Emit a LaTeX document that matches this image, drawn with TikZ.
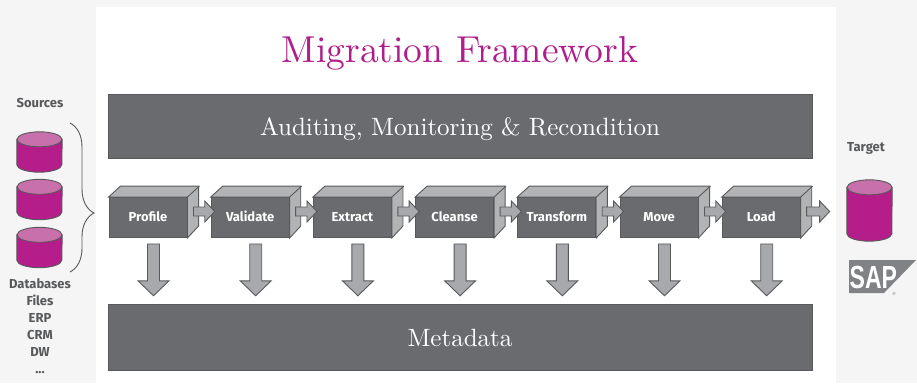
\documentclass[tikz,border=0pt]{standalone}
\usepackage{fontspec}
\newfontfamily\labelfont{Fira Sans}
\newfontfamily\logofont{Liberation Sans}
\newfontfamily\titlefont{lmroman10-regular}[Extension=.otf]
\usetikzlibrary{positioning,calc,decorations.pathreplacing}
\definecolor{panelgray}{HTML}{F5F5F5}
\definecolor{boxgray}{HTML}{6A6B6E}
\definecolor{linegray}{HTML}{58595B}
\definecolor{facegray}{HTML}{B1B3B5}
\definecolor{arrowgray}{HTML}{A7A9AC}
\definecolor{logogray}{HTML}{808285}
\definecolor{titlepink}{HTML}{B01E8C}
\definecolor{dbpink}{HTML}{B51D8A}
\definecolor{dbtop}{HTML}{C770AC}
\tikzset{
	bar/.style={rectangle,draw=linegray,fill=boxgray,minimum width=704pt,text height=20pt,text depth=2pt,text=white,font=\titlefont\fontsize{25}{30}\selectfont,inner sep=0pt},
	stage/.style={rectangle,draw=linegray,line width=.9pt,fill=boxgray,minimum width=78pt,minimum height=40pt,inner sep=0pt,text height=9pt,text depth=1pt,text=white,font=\labelfont\bfseries\fontsize{13}{15}\selectfont},
	face/.style={draw=linegray,line width=.9pt,fill=facegray},
	database/.style={rectangle,minimum width=45pt,inner sep=0pt},
	dbline/.style={draw=linegray,line width=.9pt},
	side/.style={text=linegray,font=\labelfont\bfseries\fontsize{13}{16.9}\selectfont,align=center,inner sep=0pt},
	flow/.style={draw=linegray,line width=.9pt,fill=arrowgray,to path={
		($(\tikztostart)!4.5pt!-90:(\tikztotarget)$)
		-- ($(\tikztotarget)!10pt!(\tikztostart)!4.5pt!90:(\tikztostart)$)
		-- ($(\tikztotarget)!10pt!(\tikztostart)!10.5pt!90:(\tikztostart)$)
		-- (\tikztotarget)
		-- ($(\tikztotarget)!10pt!(\tikztostart)!10.5pt!-90:(\tikztostart)$)
		-- ($(\tikztotarget)!10pt!(\tikztostart)!4.5pt!-90:(\tikztostart)$)
		-- ($(\tikztostart)!4.5pt!90:(\tikztotarget)$) -- cycle}},
	drop/.style={draw=linegray,line width=.9pt,fill=arrowgray,to path={
		($(\tikztostart)!6pt!-90:(\tikztotarget)$)
		-- ($(\tikztotarget)!15pt!(\tikztostart)!6pt!90:(\tikztostart)$)
		-- ($(\tikztotarget)!15pt!(\tikztostart)!15.5pt!90:(\tikztostart)$)
		-- (\tikztotarget)
		-- ($(\tikztotarget)!15pt!(\tikztostart)!15.5pt!-90:(\tikztostart)$)
		-- ($(\tikztotarget)!15pt!(\tikztostart)!6pt!-90:(\tikztostart)$)
		-- ($(\tikztostart)!6pt!90:(\tikztotarget)$) -- cycle}}
}
\begin{document}
\begin{tikzpicture}[x=1pt,y=-1pt,node distance=23.3pt]
	\fill[panelgray] (0,0) rectangle (917,383);
	\useasboundingbox (0,0) rectangle (917,383);
	\fill[white] (96,7) rectangle (836,383);

	\node[text=titlepink,font=\titlefont\fontsize{37.5}{44}\selectfont,inner sep=0pt] (title) at (460,53) {Migration Framework};
	\node[bar,minimum height=64pt] (audit) at (460,126) {Auditing, Monitoring \& Recondition};
	\node[bar,minimum height=66pt] (meta) at (460,337) {Metadata};

	% the stages, each with its two visible faces
	\node[stage] (Profile) at (148,217.5) {Profile};
	\foreach \cur/\prev in {Validate/Profile,Extract/Validate,Cleanse/Extract,Transform/Cleanse,Move/Transform,Load/Move}
		\node[stage,right=of \prev] (\cur) {\cur};
	\foreach \cur in {Profile,Validate,Extract,Cleanse,Transform,Move,Load}{
		\draw[face] (\cur.north west) -- ++(12pt,11pt) -- ++(78pt,0pt) -- ++(0pt,-40pt) -- (\cur.south east) -- (\cur.north east) -- cycle;
		\draw[linegray,line width=.9pt] (\cur.north east) -- ++(12pt,11pt);
		\coordinate (\cur-out) at ([xshift=6pt,yshift=6pt]\cur.east);
		\coordinate (\cur-top) at ([xshift=5.5pt,yshift=-6pt]\cur.south);
		\coordinate (\cur-end) at ([xshift=5.5pt,yshift=8pt]\cur.south |- meta.north);
		\draw[drop] (\cur-top) to (\cur-end);
	}
	\coordinate (exit) at ([xshift=23pt]Load-out);
	\foreach \cur/\next in {Profile/Validate,Validate/Extract,Extract/Cleanse,Cleanse/Transform,Transform/Move,Move/Load}{
		\coordinate (\next-in) at ([xshift=4pt,yshift=6pt]\next.west);
		\draw[flow] (\cur-out) to (\next-in);
	}
	\draw[flow] (Load-out) to (exit);

	% left side
	\node[side] (sources) at (40,103) {Sources};
	\node[database,minimum height=40pt] (db1) at (39.5,152) {};
	\node[database,minimum height=40pt] (db2) at (39.5,199.5) {};
	\node[database,minimum height=40pt] (db3) at (39.5,247.5) {};
	\draw[linegray,line width=.9pt,decorate,decoration={brace,amplitude=24pt,aspect=.604}] (70,123) -- (70,272);
	\node[side,anchor=north] (kinds) at (40,278.5) {Databases\\Files\\ERP\\CRM\\DW\\...};

	% right side
	\node[side] (target) at (866,148) {Target};
	\node[database,minimum height=61pt] (sapdb) at (869.5,210.5) {};
	\foreach \db in {db1,db2,db3,sapdb}{
		\draw[dbline,fill=dbpink] ([yshift=-7.5pt]\db.north west) -- ([yshift=7.5pt]\db.south west)
			arc[start angle=180,end angle=360,x radius=22.5pt,y radius=7.5pt] -- ([yshift=-7.5pt]\db.north east) -- cycle;
		\draw[dbline,fill=dbtop] ([yshift=-7.5pt]\db.north) ellipse[x radius=22.5pt,y radius=7.5pt];
	}
	\fill[logogray] (849,260) -- (916,260) -- (884,293) -- (849,293) -- cycle;
	\node[text=white,font=\logofont\bfseries\fontsize{32}{34}\selectfont,inner sep=0pt,anchor=base west] (sap) at (849.5,288) {\scalebox{.72}[1]{SAP}};
	\node[text=logogray,font=\logofont\fontsize{4.5}{5}\selectfont,inner sep=0pt] (reg) at (894,293.5) {®};
\end{tikzpicture}
\end{document}
